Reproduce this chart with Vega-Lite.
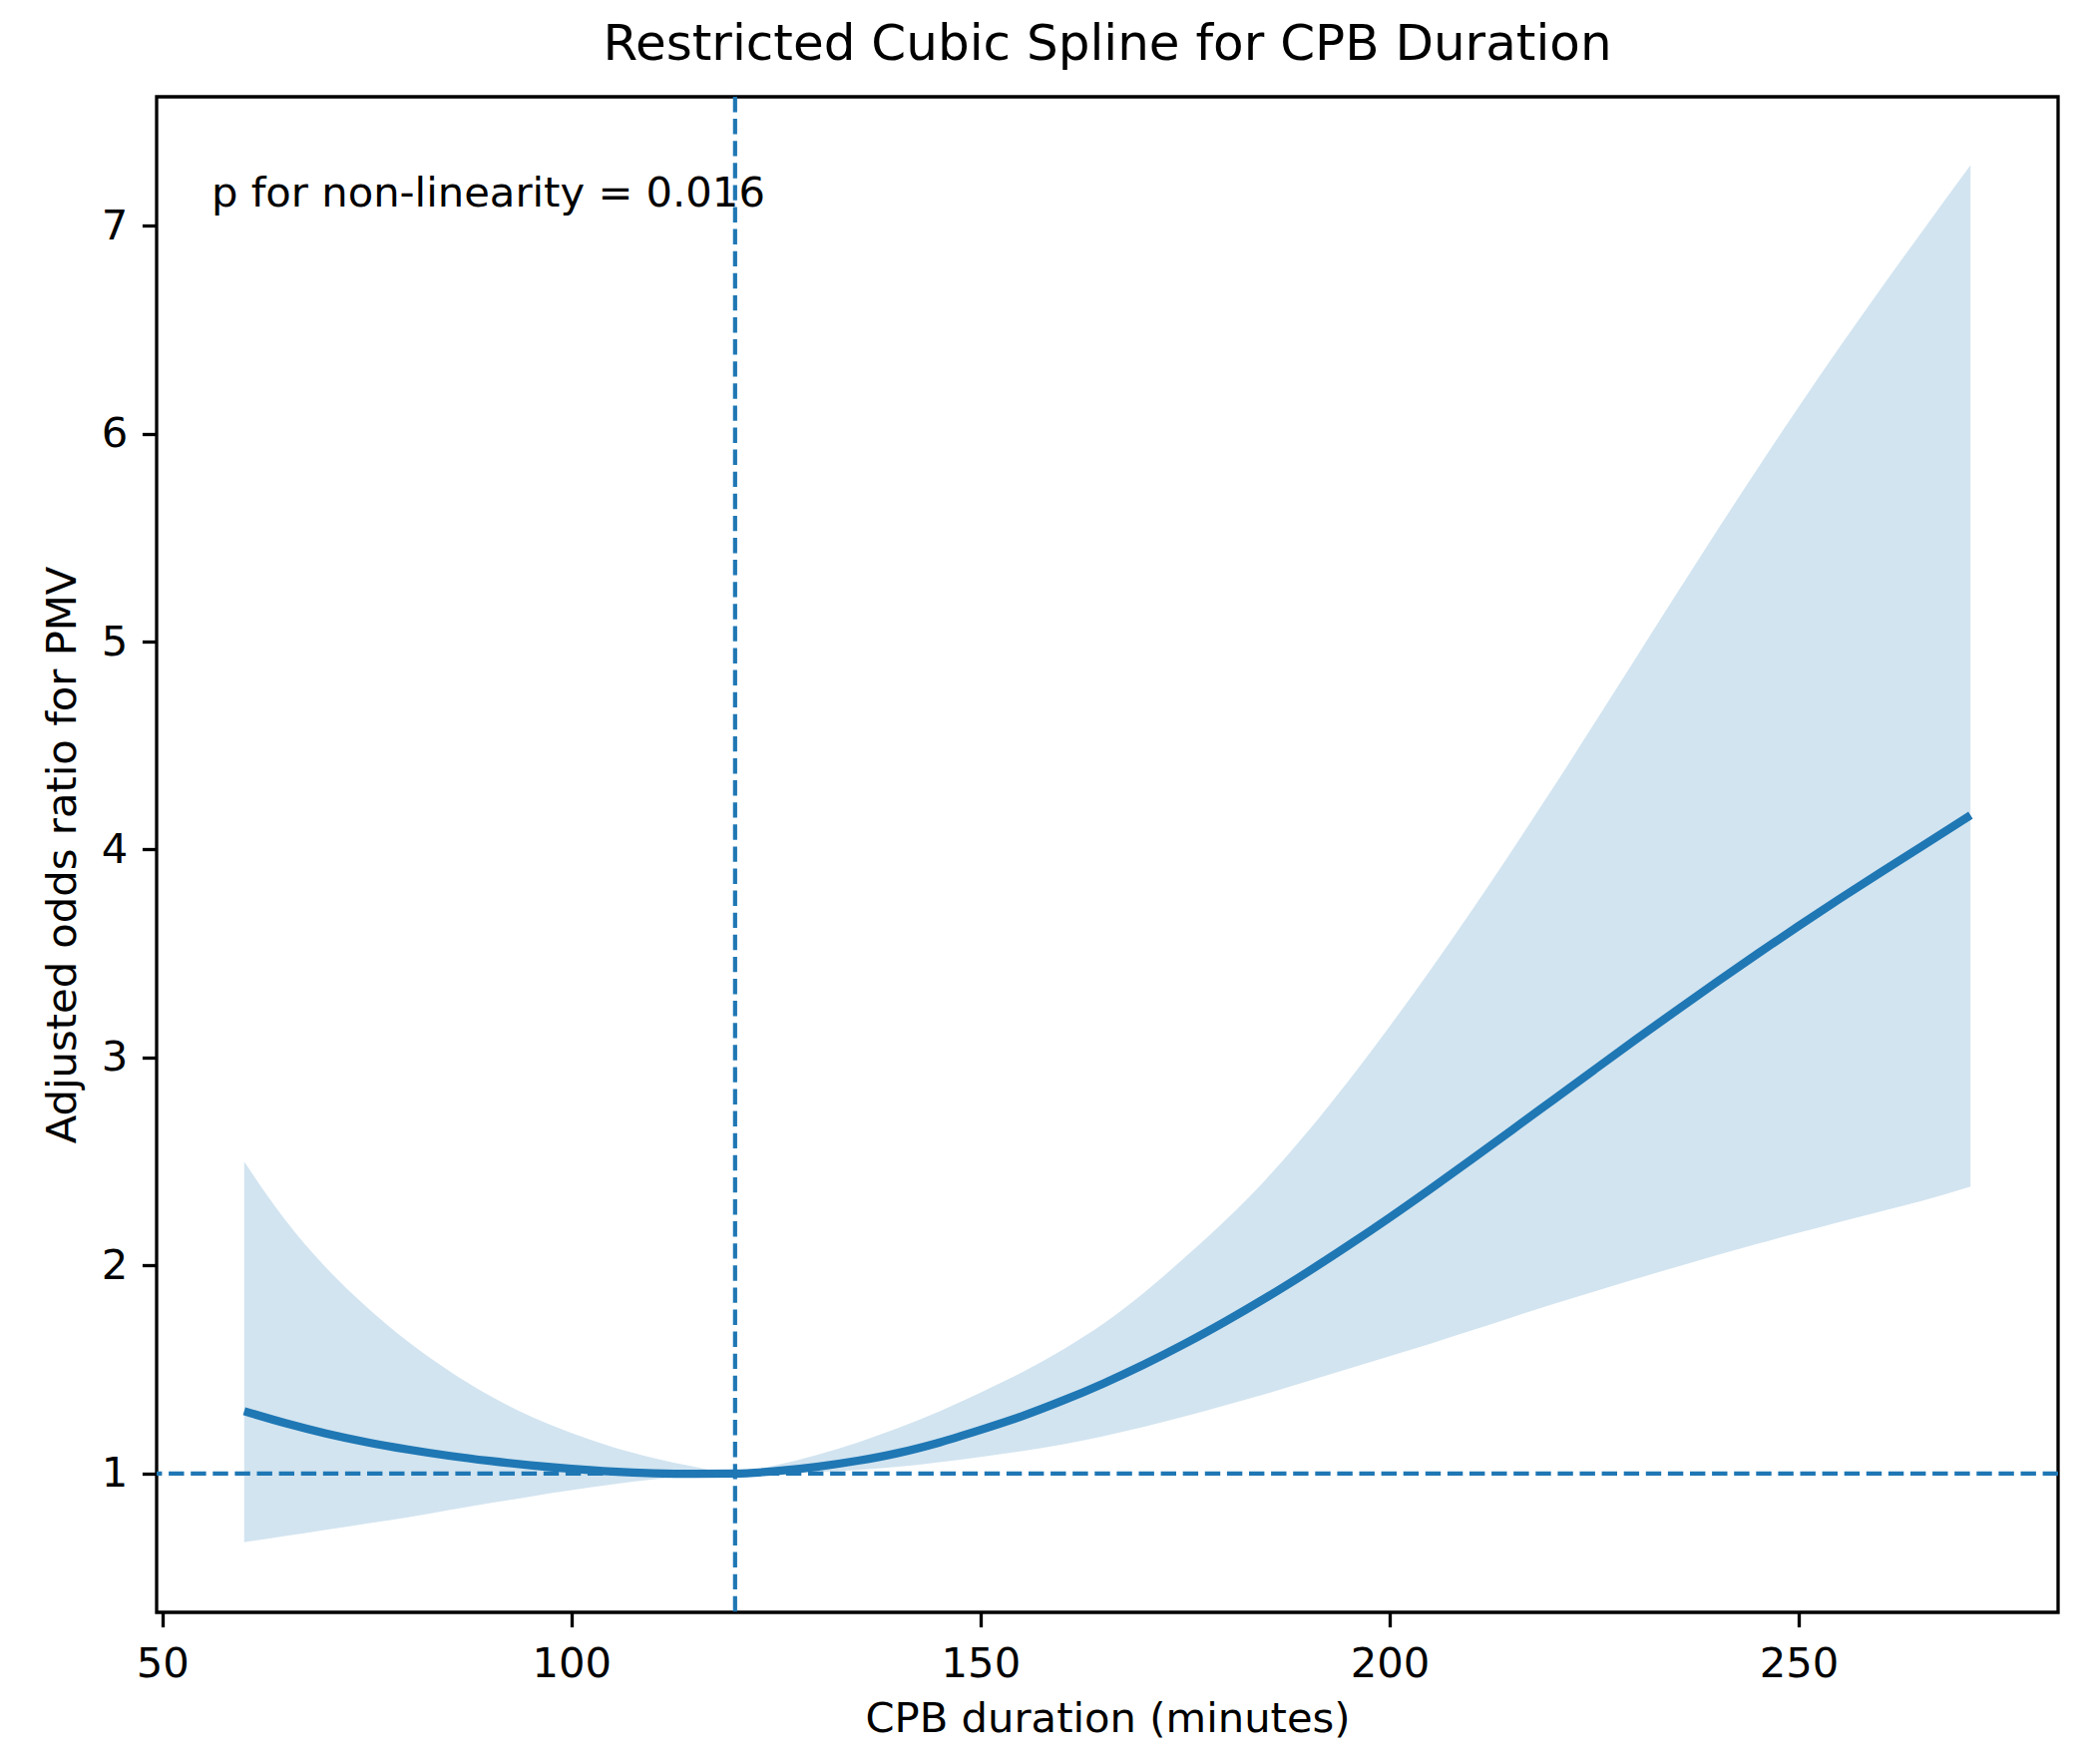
{
  "$schema": "https://vega.github.io/schema/vega-lite/v6.json",
  "width": 1906,
  "height": 1519,
  "autosize": {"type": "none"},
  "padding": {"left": 157, "top": 97, "right": 35, "bottom": 152},
  "background": "white",
  "config": {
    "font": "DejaVu Sans",
    "view": {"stroke": "black", "strokeWidth": 3.3},
    "axis": {
      "domain": false,
      "grid": false,
      "ticks": true,
      "tickColor": "black",
      "tickWidth": 3.3,
      "tickSize": 14.6,
      "labelFont": "DejaVu Sans",
      "labelFontSize": 41.7,
      "labelColor": "black",
      "titleFont": "DejaVu Sans",
      "titleFontSize": 41.7,
      "titleFontWeight": "normal",
      "titleColor": "black"
    },
    "title": {"font": "DejaVu Sans", "fontSize": 50, "fontWeight": "normal", "color": "black", "anchor": "middle", "baseline": "alphabetic", "offset": 25}
  },
  "title": "Restricted Cubic Spline for CPB Duration",
  "datasets": {
    "spline": [
      {"x": 60, "or": 1.300, "lo": 0.67, "hi": 2.50},
      {"x": 65, "or": 1.243, "lo": 0.70, "hi": 2.22},
      {"x": 70, "or": 1.193, "lo": 0.73, "hi": 1.99},
      {"x": 75, "or": 1.151, "lo": 0.76, "hi": 1.80},
      {"x": 80, "or": 1.116, "lo": 0.79, "hi": 1.635},
      {"x": 85, "or": 1.086, "lo": 0.825, "hi": 1.495},
      {"x": 90, "or": 1.061, "lo": 0.858, "hi": 1.375},
      {"x": 95, "or": 1.040, "lo": 0.89, "hi": 1.275},
      {"x": 100, "or": 1.023, "lo": 0.92, "hi": 1.195},
      {"x": 105, "or": 1.010, "lo": 0.948, "hi": 1.128},
      {"x": 110, "or": 1.002, "lo": 0.972, "hi": 1.075},
      {"x": 115, "or": 0.999, "lo": 0.99, "hi": 1.033},
      {"x": 120, "or": 1.000, "lo": 1.00, "hi": 1.00},
      {"x": 125, "or": 1.012, "lo": 1.003, "hi": 1.04},
      {"x": 130, "or": 1.033, "lo": 1.008, "hi": 1.09},
      {"x": 135, "or": 1.062, "lo": 1.018, "hi": 1.15},
      {"x": 140, "or": 1.100, "lo": 1.033, "hi": 1.22},
      {"x": 145, "or": 1.150, "lo": 1.055, "hi": 1.30},
      {"x": 150, "or": 1.210, "lo": 1.08, "hi": 1.39},
      {"x": 155, "or": 1.275, "lo": 1.108, "hi": 1.485},
      {"x": 160, "or": 1.350, "lo": 1.14, "hi": 1.595},
      {"x": 165, "or": 1.433, "lo": 1.18, "hi": 1.72},
      {"x": 170, "or": 1.525, "lo": 1.225, "hi": 1.87},
      {"x": 175, "or": 1.625, "lo": 1.275, "hi": 2.04},
      {"x": 180, "or": 1.733, "lo": 1.33, "hi": 2.22},
      {"x": 185, "or": 1.848, "lo": 1.385, "hi": 2.42},
      {"x": 190, "or": 1.970, "lo": 1.445, "hi": 2.645},
      {"x": 195, "or": 2.098, "lo": 1.505, "hi": 2.89},
      {"x": 200, "or": 2.231, "lo": 1.565, "hi": 3.15},
      {"x": 205, "or": 2.369, "lo": 1.625, "hi": 3.422},
      {"x": 210, "or": 2.510, "lo": 1.688, "hi": 3.705},
      {"x": 215, "or": 2.653, "lo": 1.752, "hi": 3.998},
      {"x": 220, "or": 2.797, "lo": 1.815, "hi": 4.298},
      {"x": 225, "or": 2.941, "lo": 1.875, "hi": 4.605},
      {"x": 230, "or": 3.084, "lo": 1.935, "hi": 4.915},
      {"x": 235, "or": 3.225, "lo": 1.993, "hi": 5.225},
      {"x": 240, "or": 3.364, "lo": 2.05, "hi": 5.532},
      {"x": 245, "or": 3.500, "lo": 2.105, "hi": 5.834},
      {"x": 250, "or": 3.633, "lo": 2.158, "hi": 6.129},
      {"x": 255, "or": 3.763, "lo": 2.21, "hi": 6.416},
      {"x": 260, "or": 3.890, "lo": 2.26, "hi": 6.695},
      {"x": 265, "or": 4.014, "lo": 2.31, "hi": 6.967},
      {"x": 271, "or": 4.165, "lo": 2.38, "hi": 7.29}
    ],
    "vref": [{"x": 120}],
    "href": [{"y": 1}],
    "note": [{"x": 56.0, "y": 7.25, "label": "p for non-linearity = 0.016"}]
  },
  "layer": [
    {
      "data": {"name": "spline"},
      "mark": {"type": "area", "color": "#1f77b4", "opacity": 0.2, "interpolate": "monotone"},
      "encoding": {
        "x": {
          "field": "x", "type": "quantitative",
          "scale": {"domain": [49.3, 281.7], "nice": false, "zero": false},
          "axis": {"values": [50, 100, 150, 200, 250], "format": "d", "labelPadding": 16.4, "title": "CPB duration (minutes)", "titlePadding": 14, "titleBaseline": "top"}
        },
        "y": {
          "field": "lo", "type": "quantitative",
          "scale": {"domain": [0.333, 7.619], "nice": false, "zero": false},
          "axis": {"values": [1, 2, 3, 4, 5, 6, 7], "format": "d", "labelPadding": 14.6, "title": "Adjusted odds ratio for PMV", "titlePadding": 26, "titleBaseline": "alphabetic"}
        },
        "y2": {"field": "hi"}
      }
    },
    {
      "data": {"name": "spline"},
      "mark": {"type": "line", "color": "#1f77b4", "strokeWidth": 8.3, "strokeCap": "butt", "interpolate": "monotone"},
      "encoding": {
        "x": {"field": "x", "type": "quantitative"},
        "y": {"field": "or", "type": "quantitative"}
      }
    },
    {
      "data": {"name": "href"},
      "mark": {"type": "rule", "color": "#1f77b4", "strokeWidth": 4.17, "strokeDash": [15.4, 6.7]},
      "encoding": {"y": {"field": "y", "type": "quantitative"}}
    },
    {
      "data": {"name": "vref"},
      "mark": {"type": "rule", "color": "#1f77b4", "strokeWidth": 4.17, "strokeDash": [15.4, 6.7]},
      "encoding": {"x": {"field": "x", "type": "quantitative"}}
    },
    {
      "data": {"name": "note"},
      "mark": {"type": "text", "align": "left", "baseline": "top", "fontSize": 41.7, "font": "DejaVu Sans", "color": "black"},
      "encoding": {
        "x": {"field": "x", "type": "quantitative"},
        "y": {"field": "y", "type": "quantitative"},
        "text": {"field": "label"}
      }
    }
  ]
}
